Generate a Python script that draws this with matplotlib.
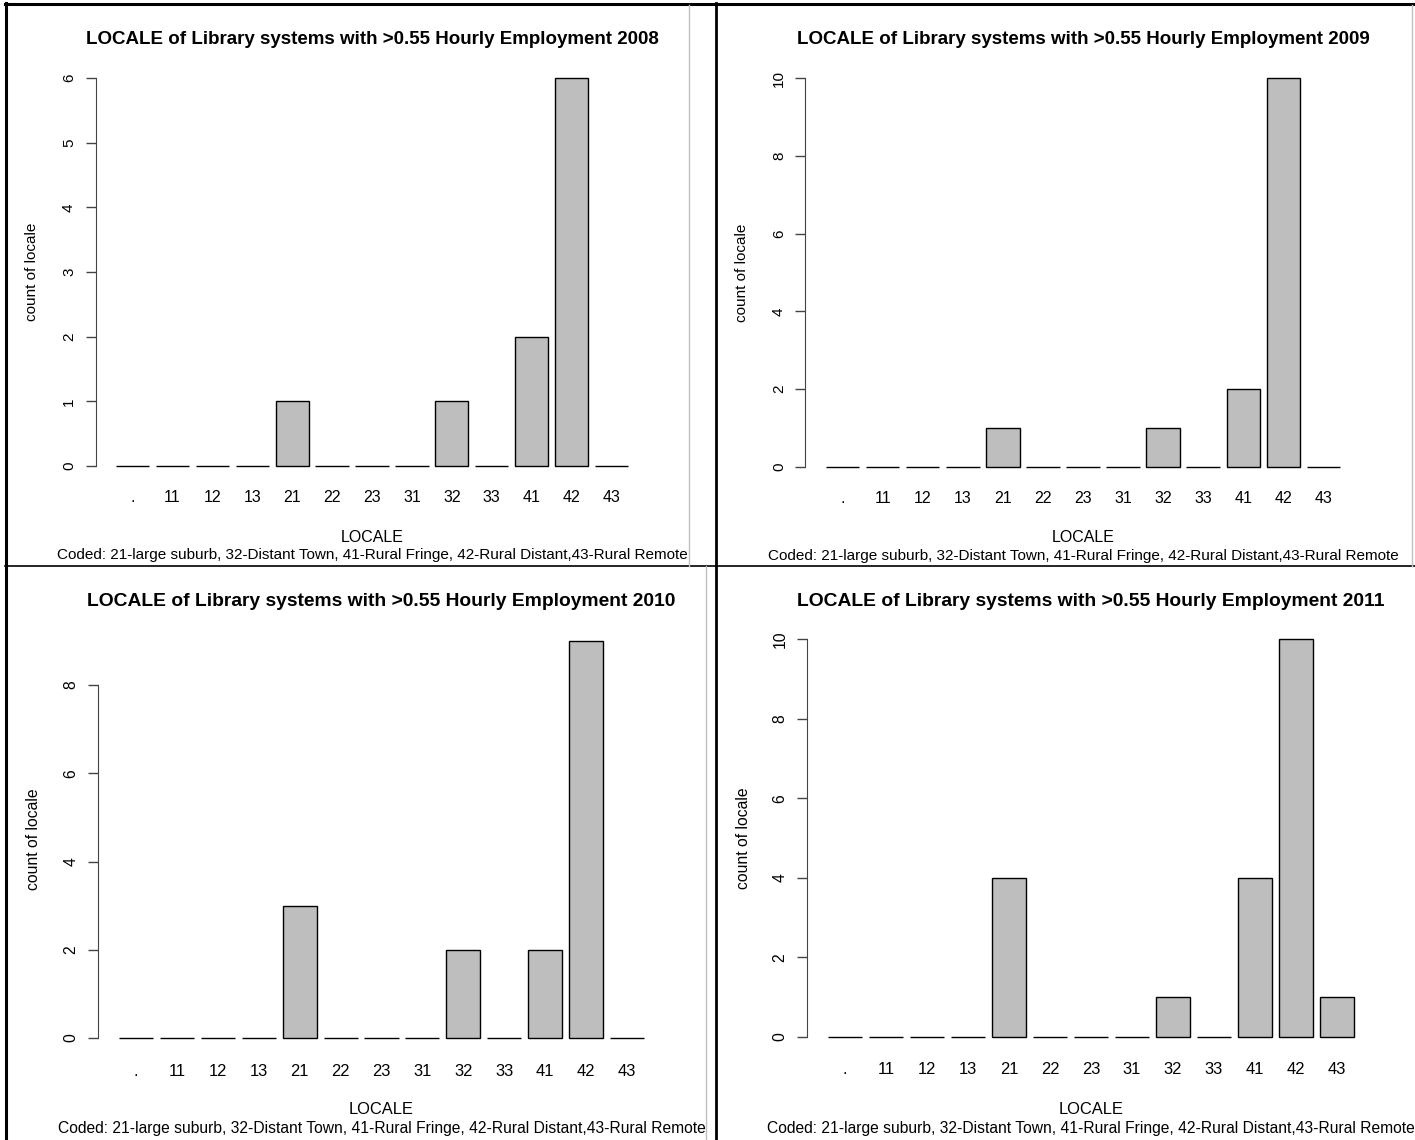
import matplotlib.pyplot as plt
from matplotlib.lines import Line2D

plt.rcParams['font.family'] = ['Liberation Sans', 'DejaVu Sans']

# Data
locales = ['.', '11', '12', '13', '21', '22', '23', '31', '32', '33', '41', '42', '43']
count_2008 = [0, 0, 0, 0, 1, 0, 0, 0, 1, 0, 2, 6, 0]
count_2009 = [0, 0, 0, 0, 1, 0, 0, 0, 1, 0, 2, 10, 0]
count_2010 = [0, 0, 0, 0, 3, 0, 0, 0, 2, 0, 2, 9, 0]
count_2011 = [0, 0, 0, 0, 4, 0, 0, 0, 1, 0, 4, 10, 1]
yticks_2008 = [0, 1, 2, 3, 4, 5, 6]
yticks_2009 = [0, 2, 4, 6, 8, 10]
yticks_2010 = [0, 2, 4, 6, 8]
yticks_2011 = [0, 2, 4, 6, 8, 10]
years = ['2008', '2009', '2010', '2011']
note = "Coded: 21-large suburb, 32-Distant Town, 41-Rural Fringe, 42-Rural Distant,43-Rural Remote"

W, H = 1415, 1140
fig = plt.figure(figsize=(W / 100, H / 100), dpi=100)


def fx(px):
    return px / W


def fy(py):
    return 1 - py / H


# table borders of the document
def hline(y, x0, x1, color='black', lw=1.5):
    fig.add_artist(Line2D([fx(x0), fx(x1)], [fy(y), fy(y)], color=color, lw=lw))


def vline(x, y0, y1, color='black', lw=1.5):
    fig.add_artist(Line2D([fx(x), fx(x)], [fy(y0), fy(y1)], color=color, lw=lw))


hline(4, 5, W, lw=2.2)
hline(566, 5, W, lw=1.2)
vline(6, 3, H, lw=2.2)
vline(716, 3, H, lw=2.0)
vline(689, 5, 566, color='#c0c0c0', lw=1.0)
vline(1412, 5, 566, color='#c0c0c0', lw=1.0)
vline(706, 566, H, color='#c0c0c0', lw=1.0)

# pixel layout of each panel: axis x, first bar left, last bar right, y of 0, y of top tick,
# title y, tick labels y, xlabel y, note y, font scale
panels = [
    (count_2008, yticks_2008, 95, 116, 628, 466, 78, 40, 498, 537, 555, 1.0),
    (count_2009, yticks_2009, 805, 826, 1340, 467, 78, 40, 499, 538, 556, 1.0),
    (count_2010, yticks_2010, 97, 119, 644, 1038, 685, 602, 1071, 1110, 1129, 1.03),
    (count_2011, yticks_2011, 807, 828, 1354, 1037, 639, 601, 1070, 1109, 1129, 1.03),
]

for (counts, yt, x_axis, bl, br, y0, ytop, t_y, tick_y, lab_y, note_y, k), year in zip(panels, years):
    # R barplot geometry: width 1, space 0.2
    n = len(counts)
    centers = [0.7 + 1.2 * i for i in range(n)]
    xmin, xmax = 0.2, 1.2 * n
    xpad = 0.04 * (xmax - xmin)
    ppu_x = (br - bl) / (xmax - xmin)
    left_px = bl - xpad * ppu_x
    right_px = br + xpad * ppu_x

    ymax = yt[-1]
    ppu_y = (y0 - ytop) / ymax
    ylo, yhi = -0.04 * max(counts), max(counts) * 1.04
    top_px = y0 - yhi * ppu_y
    bot_px = y0 - ylo * ppu_y

    ax = fig.add_axes([fx(left_px), fy(bot_px), fx(right_px - left_px), (bot_px - top_px) / H])
    ax.bar(centers, counts, width=1.0, color='#bebebe', edgecolor='black', linewidth=1.0)
    ax.set_xlim(xmin - xpad, xmax + xpad)
    ax.set_ylim(ylo, yhi)

    for s in ['top', 'right', 'bottom']:
        ax.spines[s].set_visible(False)
    ax.spines['left'].set_bounds(yt[0], yt[-1])
    ax.spines['left'].set_color('#444444')
    ax.set_yticks(yt)
    ax.set_yticklabels([str(v) for v in yt], rotation=90, va='center', fontsize=11 * k)
    ax.tick_params(axis='y', length=7, width=1, color='#444444', pad=7)
    ax.set_xticks([])

    cx = (left_px + right_px) / 2
    for c, lab in zip(centers, locales):
        xp = left_px + (c - (xmin - xpad)) * ppu_x
        fig.text(fx(xp), fy(tick_y), lab, ha='center', va='center', fontsize=11.5 * k)

    fig.text(fx(cx), fy(t_y), 'LOCALE of Library systems with >0.55 Hourly Employment ' + year,
             ha='center', va='center', fontsize=13.5 * k, fontweight='bold')
    fig.text(fx(cx), fy(lab_y), 'LOCALE', ha='center', va='center', fontsize=11.5 * k)
    fig.text(fx(cx), fy(note_y), note, ha='center', va='center', fontsize=10.95 * k)
    fig.text(fx(x_axis - 63), fy((top_px + bot_px) / 2), 'count of locale',
             ha='center', va='center', rotation=90, fontsize=11 * k)

fig.savefig('out.png', dpi=100)
